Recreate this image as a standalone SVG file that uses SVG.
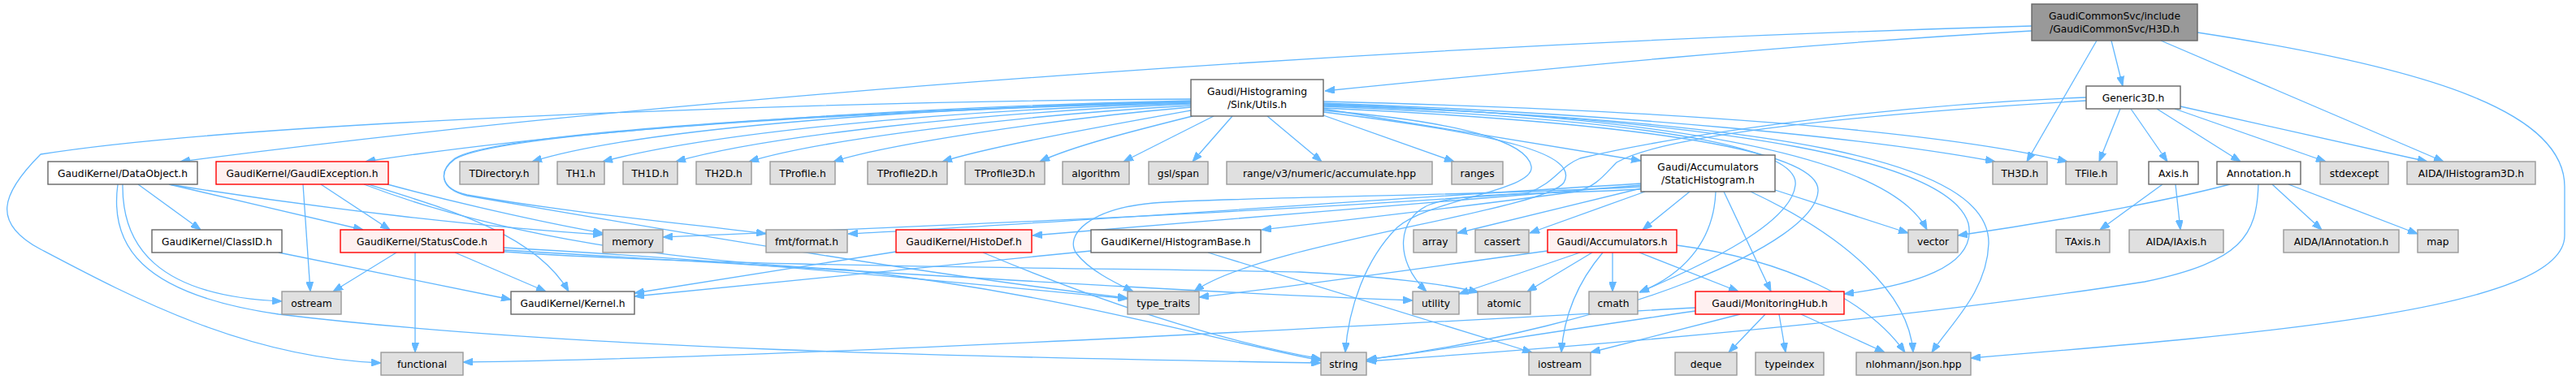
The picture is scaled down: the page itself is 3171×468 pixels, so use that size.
<svg xmlns="http://www.w3.org/2000/svg" width="3171" height="468" viewBox="0 0 3171 468">
<defs>
<marker id="ah" markerWidth="12" markerHeight="9" refX="12" refY="4.5" orient="auto" markerUnits="userSpaceOnUse">
<path d="M0,0 L12,4.5 L0,9 z" fill="#63b8ff" stroke="#63b8ff" stroke-width="1"/>
</marker>
<style>
rect{stroke-width:1.4}
.w{fill:#ffffff;stroke:#666666}
.g{fill:#e0e0e0;stroke:#999999}
.r{fill:#fff0f0;stroke:#ff0000}
.rt{fill:#999999;stroke:#666666}
text{font-family:"DejaVu Sans","Liberation Sans",sans-serif;font-size:12.3px;text-anchor:middle;fill:#000000}
#edges path{fill:none;stroke:#63b8ff;stroke-width:1.3;marker-end:url(#ah)}
</style>
</defs>
<rect width="3171" height="468" fill="#ffffff"/>
<g id="edges">
<path d="M2501,38 C2200,55 1900,85 1631,112"/>
<path d="M2501,32 C1800,52 900,110 222,199"/>
<path d="M2581,50 L2495,199"/>
<path d="M2599,50 L2613,106"/>
<path d="M2660,50 L3008,199"/>
<path d="M2705,40 C3000,85 3157,140 3157,230 L3157,290 C3157,380 2800,410 2426,441"/>
<path d="M1466,122 C1000,125 300,150 50,190 C0,240 -10,275 50,307 C160,365 300,440 469,447"/>
<path d="M1466,124 C1100,132 700,160 450,199"/>
<path d="M1466,125 C1100,134 780,160 655,199"/>
<path d="M1466,127 C1150,136 870,165 742,199"/>
<path d="M1466,128 C1200,139 940,168 832,199"/>
<path d="M1466,130 C1250,142 1010,172 922,199"/>
<path d="M1466,132 C1300,146 1090,178 1026,199"/>
<path d="M1466,136 C1360,155 1220,180 1160,199"/>
<path d="M1468,143 C1400,160 1320,180 1280,199"/>
<path d="M1494,143 L1383,199"/>
<path d="M1517,143 L1468,199"/>
<path d="M1560,143 L1627,199"/>
<path d="M1629,142 L1790,199"/>
<path d="M1629,134 L2020,198"/>
<path d="M1466,125 C1100,135 620,160 560,195 C540,210 540,232 575,240 C700,262 850,276 943,288"/>
<path d="M1466,126 C1100,136 620,161 560,196 C540,211 540,232 575,241 C800,280 1150,340 1388,367"/>
<path d="M1629,127 C2000,140 2300,170 2456,199"/>
<path d="M1629,125 C2050,135 2380,160 2545,199"/>
<path d="M1629,128 C2100,145 2330,200 2372,283"/>
<path d="M1629,130 C2200,148 2450,200 2448,300 C2446,360 2400,400 2378,434"/>
<path d="M1629,129 C2150,148 2400,200 2423,275 C2435,330 2350,352 2270,362"/>
<path d="M1629,131 C2100,150 2215,190 2210,228 C2205,275 2100,325 2018,360"/>
<path d="M1629,133 C2100,155 2240,195 2238,235 C2235,300 2000,400 1683,443"/>
<path d="M1629,136 C1800,150 1880,175 1885,205 C1890,235 1760,245 1720,280 C1680,320 1660,380 1656,434"/>
<path d="M1629,138 C1850,165 1945,190 1925,225 C1900,260 1550,300 1470,359"/>
<path d="M170,227 L247,283"/>
<path d="M208,227 L447,283"/>
<path d="M208,227 C400,258 600,280 742,289"/>
<path d="M151,227 C150,300 190,365 347,371"/>
<path d="M145,227 C135,300 170,362 343,387 C700,430 1200,440 1626,447"/>
<path d="M373,227 L382,359"/>
<path d="M395,227 L480,283"/>
<path d="M453,227 C560,260 660,290 700,359"/>
<path d="M477,227 C580,255 690,278 742,287"/>
<path d="M448,227 C600,285 800,320 1040,332 C1300,360 1500,420 1626,444"/>
<path d="M620,305 C900,320 1200,350 1388,368"/>
<path d="M620,308 C1000,330 1500,362 1739,370"/>
<path d="M620,310 C900,330 1400,330 1600,335 C1700,340 1780,350 1820,360"/>
<path d="M488,311 L410,359"/>
<path d="M511,311 L511,434"/>
<path d="M560,311 L672,359"/>
<path d="M343,311 L629,369"/>
<path d="M1103,310 L781,361"/>
<path d="M1210,311 C1350,370 1500,420 1626,442"/>
<path d="M1343,309 L781,365"/>
<path d="M1487,311 L1886,434"/>
<path d="M2080,236 L2022,283"/>
<path d="M2112,236 C2110,290 2080,335 2018,360"/>
<path d="M2122,236 L2180,359"/>
<path d="M2155,236 C2270,290 2350,360 2355,434"/>
<path d="M2185,234 L2349,287"/>
<path d="M2020,228 C1800,245 1500,272 1271,290"/>
<path d="M2020,226 C1700,245 1300,275 1044,288"/>
<path d="M2020,232 L1794,287"/>
<path d="M2025,236 L1883,287"/>
<path d="M2020,230 C1800,242 1500,243 1420,250 C1340,257 1310,290 1325,312 C1340,332 1370,347 1395,359"/>
<path d="M2020,233 C1900,240 1800,236 1760,252 C1720,268 1715,320 1756,359"/>
<path d="M2568,124 C2300,140 2050,165 1990,200 C1975,215 1965,230 1940,236 C1800,255 1650,272 1553,283"/>
<path d="M2568,120 C2300,130 2050,170 1945,195 C1920,205 1915,225 1880,238 C1500,265 1100,280 816,292"/>
<path d="M2610,134 L2584,199"/>
<path d="M2623,134 L2668,199"/>
<path d="M2655,134 L2758,199"/>
<path d="M2677,134 L2863,199"/>
<path d="M2684,131 L2988,199"/>
<path d="M2662,227 L2585,283"/>
<path d="M2678,227 L2684,283"/>
<path d="M2745,227 C2650,252 2500,277 2410,290"/>
<path d="M2780,227 C2778,290 2760,322 2640,347 C2300,400 1900,430 1682,445"/>
<path d="M2797,227 L2858,283"/>
<path d="M2817,227 L2976,288"/>
<path d="M1905,309 C1750,330 1600,352 1476,366"/>
<path d="M1945,311 L1796,362"/>
<path d="M1960,311 L1880,359"/>
<path d="M1973,311 C1940,350 1925,390 1922,434"/>
<path d="M1985,311 L1985,359"/>
<path d="M2018,311 L2140,359"/>
<path d="M2064,302 C2200,320 2300,370 2345,434"/>
<path d="M2173,387 L2128,434"/>
<path d="M2190,387 L2198,434"/>
<path d="M2217,387 L2320,434"/>
<path d="M2087,383 C1900,410 1750,435 1682,443"/>
<path d="M2142,387 L1958,434"/>
<path d="M2087,379 C1700,400 1000,440 570,446"/>
</g>
<g id="root"><rect class="rt" x="2501" y="5" width="204" height="45"/><text x="2603" y="23.5">GaudiCommonSvc/include</text><text x="2603" y="40">/GaudiCommonSvc/H3D.h</text></g>
<g id="utils"><rect class="w" x="1466" y="98" width="163" height="45"/><text x="1547.5" y="116.5">Gaudi/Histograming</text><text x="1547.5" y="133">/Sink/Utils.h</text></g>
<g id="generic3d"><rect class="w" x="2568" y="106" width="116" height="28"/><text x="2626" y="124.5">Generic3D.h</text></g>
<g id="dataobject"><rect class="w" x="59" y="199" width="184" height="28"/><text x="151" y="217.5">GaudiKernel/DataObject.h</text></g>
<g id="gaudiexception"><rect class="r" x="266" y="199" width="212" height="28"/><text x="372" y="217.5">GaudiKernel/GaudiException.h</text></g>
<g id="tdirectory"><rect class="g" x="566" y="199" width="97" height="28"/><text x="614.5" y="217.5">TDirectory.h</text></g>
<g id="th1"><rect class="g" x="686" y="199" width="58" height="28"/><text x="715" y="217.5">TH1.h</text></g>
<g id="th1d"><rect class="g" x="767" y="199" width="67" height="28"/><text x="800.5" y="217.5">TH1D.h</text></g>
<g id="th2d"><rect class="g" x="857" y="199" width="68" height="28"/><text x="891" y="217.5">TH2D.h</text></g>
<g id="tprofile"><rect class="g" x="948" y="199" width="80" height="28"/><text x="988" y="217.5">TProfile.h</text></g>
<g id="tprofile2d"><rect class="g" x="1068" y="199" width="98" height="28"/><text x="1117" y="217.5">TProfile2D.h</text></g>
<g id="tprofile3d"><rect class="g" x="1188" y="199" width="98" height="28"/><text x="1237" y="217.5">TProfile3D.h</text></g>
<g id="algorithm"><rect class="g" x="1308" y="199" width="82" height="28"/><text x="1349" y="217.5">algorithm</text></g>
<g id="gslspan"><rect class="g" x="1414" y="199" width="73" height="28"/><text x="1450.5" y="217.5">gsl/span</text></g>
<g id="rangeaccumulate"><rect class="g" x="1510" y="199" width="253" height="28"/><text x="1636.5" y="217.5">range/v3/numeric/accumulate.hpp</text></g>
<g id="ranges"><rect class="g" x="1787" y="199" width="63" height="28"/><text x="1818.5" y="217.5">ranges</text></g>
<g id="statichistogram"><rect class="w" x="2020" y="191" width="165" height="45"/><text x="2102.5" y="209.5">Gaudi/Accumulators</text><text x="2102.5" y="226">/StaticHistogram.h</text></g>
<g id="th3d"><rect class="g" x="2453" y="199" width="67" height="28"/><text x="2486.5" y="217.5">TH3D.h</text></g>
<g id="tfile"><rect class="g" x="2543" y="199" width="63" height="28"/><text x="2574.5" y="217.5">TFile.h</text></g>
<g id="axis"><rect class="w" x="2645" y="199" width="61" height="28"/><text x="2675.5" y="217.5">Axis.h</text></g>
<g id="annotation"><rect class="w" x="2729" y="199" width="103" height="28"/><text x="2780.5" y="217.5">Annotation.h</text></g>
<g id="stdexcept"><rect class="g" x="2856" y="199" width="84" height="28"/><text x="2898" y="217.5">stdexcept</text></g>
<g id="ihistogram3d"><rect class="g" x="2963" y="199" width="158" height="28"/><text x="3042" y="217.5">AIDA/IHistogram3D.h</text></g>
<g id="classid"><rect class="w" x="187" y="283" width="160" height="28"/><text x="267" y="301.5">GaudiKernel/ClassID.h</text></g>
<g id="statuscode"><rect class="r" x="419" y="283" width="201" height="28"/><text x="519.5" y="301.5">GaudiKernel/StatusCode.h</text></g>
<g id="memory"><rect class="g" x="742" y="283" width="74" height="28"/><text x="779" y="301.5">memory</text></g>
<g id="fmtformat"><rect class="g" x="943" y="283" width="100" height="28"/><text x="993" y="301.5">fmt/format.h</text></g>
<g id="histodef"><rect class="r" x="1103" y="283" width="167" height="28"/><text x="1186.5" y="301.5">GaudiKernel/HistoDef.h</text></g>
<g id="histogrambase"><rect class="w" x="1343" y="283" width="209" height="28"/><text x="1447.5" y="301.5">GaudiKernel/HistogramBase.h</text></g>
<g id="array"><rect class="g" x="1740" y="283" width="53" height="28"/><text x="1766.5" y="301.5">array</text></g>
<g id="cassert"><rect class="g" x="1816" y="283" width="66" height="28"/><text x="1849" y="301.5">cassert</text></g>
<g id="accumulators"><rect class="r" x="1905" y="283" width="159" height="28"/><text x="1984.5" y="301.5">Gaudi/Accumulators.h</text></g>
<g id="vector"><rect class="g" x="2349" y="283" width="61" height="28"/><text x="2379.5" y="301.5">vector</text></g>
<g id="taxis"><rect class="g" x="2531" y="283" width="66" height="28"/><text x="2564" y="301.5">TAxis.h</text></g>
<g id="iaxis"><rect class="g" x="2621" y="283" width="116" height="28"/><text x="2679" y="301.5">AIDA/IAxis.h</text></g>
<g id="iannotation"><rect class="g" x="2811" y="283" width="142" height="28"/><text x="2882" y="301.5">AIDA/IAnnotation.h</text></g>
<g id="map"><rect class="g" x="2976" y="283" width="50" height="28"/><text x="3001" y="301.5">map</text></g>
<g id="ostream"><rect class="g" x="347" y="359" width="73" height="28"/><text x="383.5" y="377.5">ostream</text></g>
<g id="kernel"><rect class="w" x="629" y="359" width="152" height="28"/><text x="705" y="377.5">GaudiKernel/Kernel.h</text></g>
<g id="typetraits"><rect class="g" x="1388" y="359" width="88" height="28"/><text x="1432" y="377.5">type_traits</text></g>
<g id="utility"><rect class="g" x="1739" y="359" width="57" height="28"/><text x="1767.5" y="377.5">utility</text></g>
<g id="atomic"><rect class="g" x="1819" y="359" width="65" height="28"/><text x="1851.5" y="377.5">atomic</text></g>
<g id="cmath"><rect class="g" x="1956" y="359" width="60" height="28"/><text x="1986" y="377.5">cmath</text></g>
<g id="monitoringhub"><rect class="r" x="2087" y="359" width="183" height="28"/><text x="2178.5" y="377.5">Gaudi/MonitoringHub.h</text></g>
<g id="functional"><rect class="g" x="469" y="434" width="101" height="28"/><text x="519.5" y="452.5">functional</text></g>
<g id="string"><rect class="g" x="1626" y="434" width="56" height="28"/><text x="1654" y="452.5">string</text></g>
<g id="iostream"><rect class="g" x="1882" y="434" width="76" height="28"/><text x="1920" y="452.5">iostream</text></g>
<g id="deque"><rect class="g" x="2062" y="434" width="76" height="28"/><text x="2100" y="452.5">deque</text></g>
<g id="typeindex"><rect class="g" x="2161" y="434" width="84" height="28"/><text x="2203" y="452.5">typeindex</text></g>
<g id="json"><rect class="g" x="2285" y="434" width="141" height="28"/><text x="2355.5" y="452.5">nlohmann/json.hpp</text></g>
</svg>
